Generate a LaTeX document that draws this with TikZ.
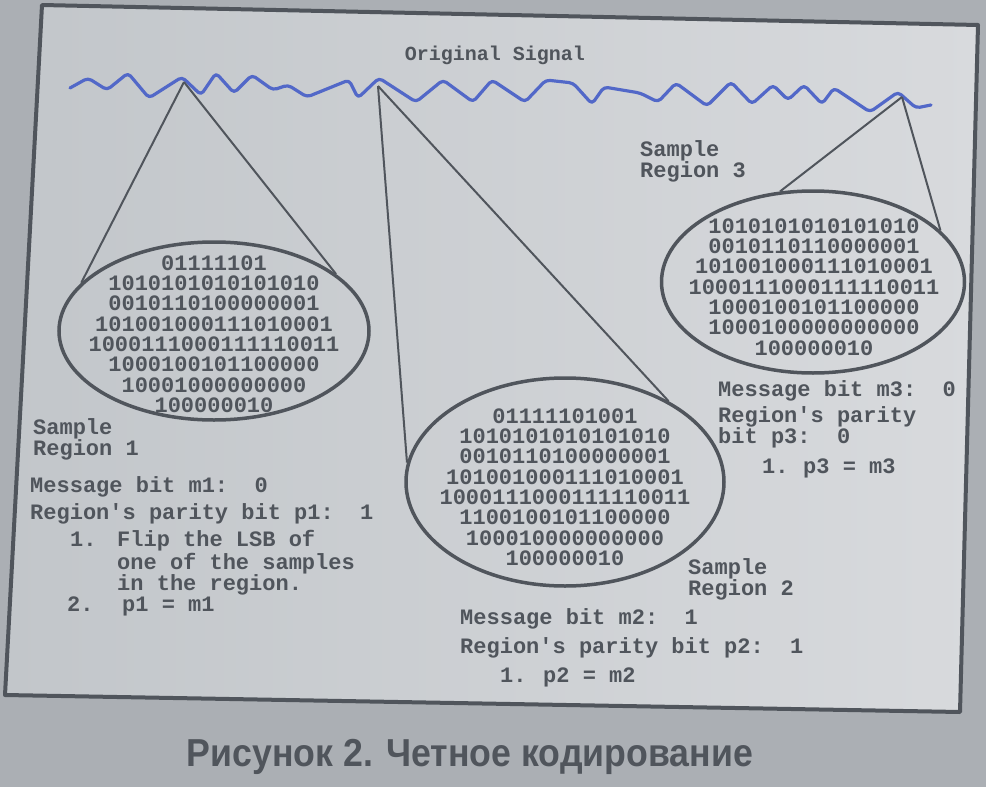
\documentclass[tikz,border=0pt]{standalone}
\usepackage{fontspec}
\setmainfont{Liberation Sans}
\setmonofont{Liberation Mono}
\usepackage{graphicx}
\usetikzlibrary{shapes.geometric,positioning}
\definecolor{ink}{HTML}{50555C}
\definecolor{wave}{HTML}{5268C8}
\definecolor{paper}{HTML}{C2C6CA}
\definecolor{paperhi}{HTML}{D8DADD}
\definecolor{desk}{HTML}{ABAFB4}
\tikzset{
  region/.style={ellipse,draw=ink,line width=3.5pt,inner sep=0pt},
  bits/.style  ={font=\ttfamily\bfseries\fontsize{22}{20.3}\selectfont,text=ink,
                 align=center,inner sep=0pt},
  lab/.style   ={font=\ttfamily\bfseries\fontsize{22}{21}\selectfont,text=ink,
                 align=left,inner sep=0pt,anchor=north west},
  cone/.style  ={draw=ink,line width=2pt},
  signal/.style={draw=wave,line width=3.2pt,line join=round,line cap=round,rounded corners=4pt}
}

\begin{document}
\begin{tikzpicture}[x=1pt,y=-1pt]
  \useasboundingbox (0,0) rectangle (986,787);
  \fill[desk] (0,0) rectangle (986,787);
  % sheet
  \shade[left color=paper,right color=paperhi] (42,5) -- (978,25) -- (960,712) -- (5,695) -- cycle;
  \draw[ink,line width=4pt,line join=round] (42,5) -- (978,25) -- (960,712) -- (5,695) -- cycle;

  % signal
  \node[lab,anchor=center,font=\ttfamily\bfseries\fontsize{20}{20}\selectfont] (sig) at (495,55) {Original Signal};
  \draw[signal] (70,88) -- (88,78) -- (107,90) -- (128,73) -- (149,98) -- (182,77) -- (201,95)
    -- (216,73) -- (234,93) -- (252,75) -- (273,90) -- (288,85) -- (307,97) -- (349,80)
    -- (358,98) -- (379,78) -- (416,102) -- (443,80) -- (473,102) -- (492,80) -- (525,102)
    -- (546,80) -- (573,83) -- (592,104) -- (604,87) -- (640,93) -- (658,102) -- (676,83)
    -- (707,106) -- (731,82) -- (752,104) -- (773,85) -- (788,100) -- (804,85) -- (822,104)
    -- (834,88) -- (870,112) -- (898,92) -- (916,108) -- (931,105);
  \coordinate (a1) at (184,82);
  \coordinate (a2) at (378,86);
  \coordinate (a3) at (902,97);

  % sample regions
  \node[region,minimum width=310pt,minimum height=178pt] (e1) at (214,331) {};
  \node[region,minimum width=318pt,minimum height=208pt] (e2) at (565,482) {};
  \node[region,minimum width=303pt,minimum height=182pt] (e3) at (813,282) {};

  \node[bits] (b1) at (214,334) {01111101\\1010101010101010\\0010110100000001\\
    101001000111010001\\1000111000111110011\\1000100101100000\\
    10001000000000\\100000010};
  \node[bits] (b2) at (565,487) {01111101001\\1010101010101010\\0010110100000001\\
    101001000111010001\\1000111000111110011\\1100100101100000\\
    100010000000000\\100000010};
  \node[bits] (b3) at (814,287) {1010101010101010\\0010110110000001\\
    101001000111010001\\1000111000111110011\\1000100101100000\\
    1000100000000000\\100000010};

  \draw[cone] (a1) -- (e1.160);
  \draw[cone] (a1) -- (e1.25);
  \draw[cone] (a2) -- (e2.173);
  \draw[cone] (a2) -- (e2.38);
  \draw[cone] (a3) -- (e3.110);
  \draw[cone] (a3) -- (e3.22);

  % labels
  \node[lab,font=\ttfamily\bfseries\fontsize{22}{20}\selectfont] (t1) at (33,418) {Sample\\Region 1};
  \node[lab] (i1) at (30,476) {Message bit m1:~ 0\\[6pt]
    Region's parity bit p1:~ 1\\[6pt]
    \hspace*{40pt}\makebox[47pt][l]{1.}Flip the LSB of\\[2pt]
    \hspace*{87pt}one of the samples\\
    \hspace*{87pt}in the region.\\
    \hspace*{37pt}\makebox[55pt][l]{2.}p1 = m1};
  \node[lab,font=\ttfamily\bfseries\fontsize{22}{20}\selectfont] (t2) at (688,558) {Sample\\Region 2};
  \node[lab] (i2) at (460,608) {Message bit m2:~ 1\\[8pt]
    Region's parity bit p2:~ 1\\[8pt]
    \hspace*{40pt}\makebox[43pt][l]{1.}p2 = m2};
  \node[lab,font=\ttfamily\bfseries\fontsize{22}{19}\selectfont] (t3) at (640,140) {Sample\\Region 3};
  \node[lab] (i3) at (718,380) {Message bit m3:~ 0\\[5pt]
    Region's parity\\
    bit p3:~ 0\\[9pt]
    \hspace*{44pt}\makebox[41pt][l]{1.}p3 = m3};

  % caption
  \node[text=ink,font=\bfseries\fontsize{39}{40}\selectfont,inner sep=0pt] (cap) at (470,757)
    {\scalebox{0.915}[1]{Рисунок 2. Четное кодирование}};
\end{tikzpicture}
\end{document}
